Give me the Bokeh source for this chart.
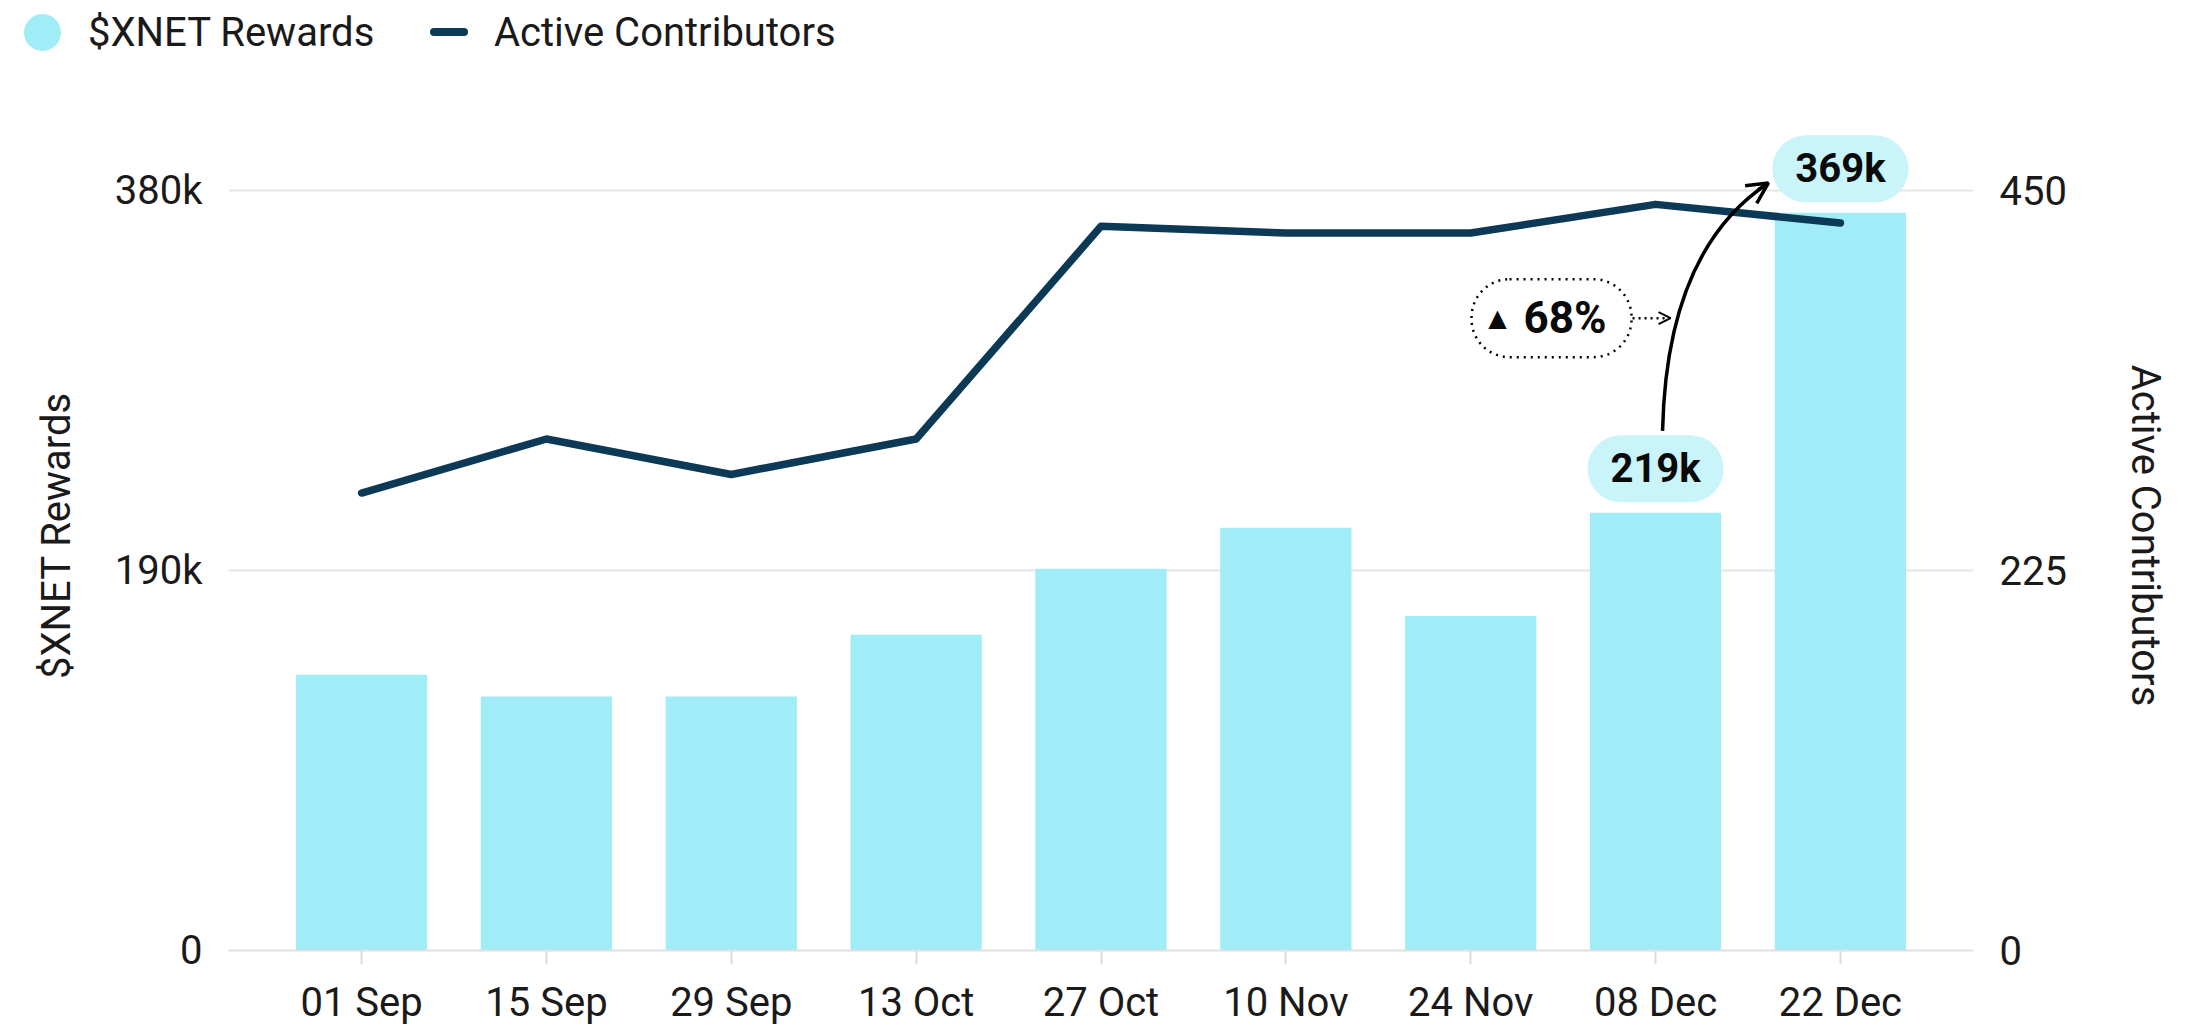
from bokeh.plotting import figure
from bokeh.models import (Range1d, LinearAxis, FixedTicker, Label, Arrow, OpenHead,
                          ColumnDataSource, Div)
from bokeh.layouts import column
from bokeh.embed import file_html
from bokeh.resources import INLINE

# ---------------- data ----------------
series_names = ["$XNET Rewards", "Active Contributors"]
dates = ["01 Sep", "15 Sep", "29 Sep", "13 Oct", "27 Oct", "10 Nov", "24 Nov", "08 Dec", "22 Dec"]
rewards = [138000, 127000, 127000, 158000, 191000, 211500, 167300, 219000, 369000]
contributors = [271, 303, 282, 303, 429, 425, 425, 442, 431]
left_ticks = [0, 190000, 380000]
left_tick_labels = ["0", "190k", "380k"]
right_ticks = [0, 225, 450]

# ---------------- style ----------------
BAR = "#A0ECF7"
PILL = "#C9F4FA"
LINE = "#0C3A56"
GRID = "#E6E6E6"
TXT = "#1A1A1A"
FONT = "Roboto"

W = 2190
LEG_H = 78
MAIN_H = 950
ML, MR, MT, MB = 228, 217, 42, 76
FRAME_W = W - ML - MR
FRAME_H = MAIN_H - MT - MB
X0, X1 = -0.72, 8.72
Y1 = 415200
R1 = Y1 * 450 / 380000

PXX = FRAME_W / (X1 - X0)
PXY = FRAME_H / Y1


def dx(px):
    return px / PXX


def dy(px):
    return px / PXY


# ---------------- legend (html row above the plot) ----------------
legend_html = (
    f'<div style="position:relative;width:{W}px;height:{LEG_H}px;font-family:Roboto,sans-serif;'
    f'font-size:40px;line-height:40px;color:{TXT};">'
    f'<span style="position:absolute;left:24px;top:14px;width:37px;height:37px;border-radius:50%;'
    f'background:{BAR};"></span>'
    f'<span style="position:absolute;left:88px;top:13px;white-space:nowrap;">{series_names[0]}</span>'
    f'<span style="position:absolute;left:430px;top:28px;width:38px;height:8px;border-radius:4px;'
    f'background:{LINE};"></span>'
    f'<span style="position:absolute;left:494px;top:13px;white-space:nowrap;">{series_names[1]}</span>'
    f'</div>'
)
leg = Div(text=legend_html, width=W, height=LEG_H, disable_math=True,
          styles={"margin": "0", "padding": "0"})

# ---------------- main figure ----------------
idx = list(range(len(dates)))
src = ColumnDataSource(dict(x=idx, rewards=rewards, contributors=contributors))

p = figure(width=W, height=MAIN_H, x_range=Range1d(X0, X1), y_range=Range1d(0, Y1),
           output_backend="svg", toolbar_location=None,
           min_border_left=ML, min_border_right=MR, min_border_top=MT, min_border_bottom=MB)
p.outline_line_color = None
p.extra_y_ranges = {"right": Range1d(0, R1)}

p.vbar(x="x", top="rewards", width=0.71, source=src, fill_color=BAR, line_color=None)
p.line(x="x", y="contributors", source=src, y_range_name="right",
       line_color=LINE, line_width=7.5, line_join="round", line_cap="round")

# axes
p.xaxis.ticker = FixedTicker(ticks=idx)
p.xaxis.major_label_overrides = {i: d for i, d in enumerate(dates)}
p.xaxis.axis_line_color = "#E0E0E0"
p.xaxis.axis_line_width = 2
p.xaxis.major_tick_line_color = "#DDDDDD"
p.xaxis.major_tick_line_width = 2
p.xaxis.major_tick_out = 14
p.xaxis.major_tick_in = 0
p.xaxis.minor_tick_line_color = None
p.xaxis.major_label_standoff = 14
p.xaxis.major_label_text_font = FONT
p.xaxis.major_label_text_font_size = "40px"
p.xaxis.major_label_text_color = TXT

p.yaxis.ticker = FixedTicker(ticks=left_ticks)
p.yaxis.major_label_overrides = dict(zip(left_ticks, left_tick_labels))
p.yaxis.axis_label = series_names[0]

right = LinearAxis(y_range_name="right", ticker=FixedTicker(ticks=right_ticks),
                   axis_label=series_names[1])
p.add_layout(right, "right")

for ax in (p.yaxis[0], right):
    ax.axis_line_color = None
    ax.major_tick_line_color = None
    ax.minor_tick_line_color = None
    ax.major_label_standoff = 20
    ax.major_label_text_font = FONT
    ax.major_label_text_font_size = "40px"
    ax.major_label_text_color = TXT
    ax.axis_label_text_font = FONT
    ax.axis_label_text_font_size = "40px"
    ax.axis_label_text_font_style = "normal"
    ax.axis_label_text_color = TXT
p.yaxis[0].axis_label_standoff = 32
right.axis_label_standoff = 52

p.xgrid.visible = False
p.ygrid.ticker = FixedTicker(ticks=left_ticks)
p.ygrid.grid_line_color = GRID
p.ygrid.grid_line_width = 2


def kfmt(v):
    return f"{round(v / 1000)}k"


# value pills on the last two bars
for i in (7, 8):
    p.add_layout(Label(x=i, y=rewards[i], y_offset=44, text=kfmt(rewards[i]),
                       text_align="center", text_baseline="middle",
                       text_font=FONT, text_font_size="40px", text_font_style="bold",
                       text_color="#0A0A0A",
                       background_fill_color=PILL, border_line_color=None,
                       padding=dict(left=23, right=23, top=10, bottom=10), border_radius=34))

# curved arrow from 219k to 369k
sx, sy = 7 + dx(7), rewards[7] + dy(82)
cx, cy = 7 + dx(11), rewards[7] + dy(263)
ex, ey = 8 + dx(-72), rewards[8] + dy(30)
p.quadratic(x0=[sx], y0=[sy], x1=[ex], y1=[ey], cx=[cx], cy=[cy],
            line_color="black", line_width=3.5)
p.add_layout(Arrow(x_start=ex - 0.1 * (ex - cx), y_start=ey - 0.1 * (ey - cy), x_end=ex, y_end=ey,
                   line_color="black", line_width=3.5,
                   end=OpenHead(size=21, line_color="black", line_width=3.5)))

# percentage badge
pct = round((rewards[8] - rewards[7]) / rewards[7] * 100)
by = rewards[7] + dy(195)
p.add_layout(Label(x=7 + dx(-104), y=by, text=f"{pct}%",
                   text_align="center", text_baseline="middle",
                   text_font=FONT, text_font_size="44px", text_font_style="bold",
                   text_color="#0A0A0A", background_fill_color="white",
                   border_line_color="black", border_line_width=2.5, border_line_dash="2 5",
                   padding=dict(left=52, right=25, top=13, bottom=13), border_radius=38))
p.add_layout(Label(x=7 + dx(-158), y=by, text="▲", text_align="center", text_baseline="middle",
                   text_font="DejaVu Sans", text_font_size="24px", text_color="#0A0A0A"))
p.add_layout(Arrow(x_start=7 + dx(-23), y_start=by, x_end=7 + dx(15), y_end=by,
                   line_color="black", line_width=2.5, line_dash="2 4",
                   end=OpenHead(size=12, line_color="black", line_width=2)))

layout = column(leg, p, spacing=0)
open("out.html", "w").write(file_html(layout, INLINE))
